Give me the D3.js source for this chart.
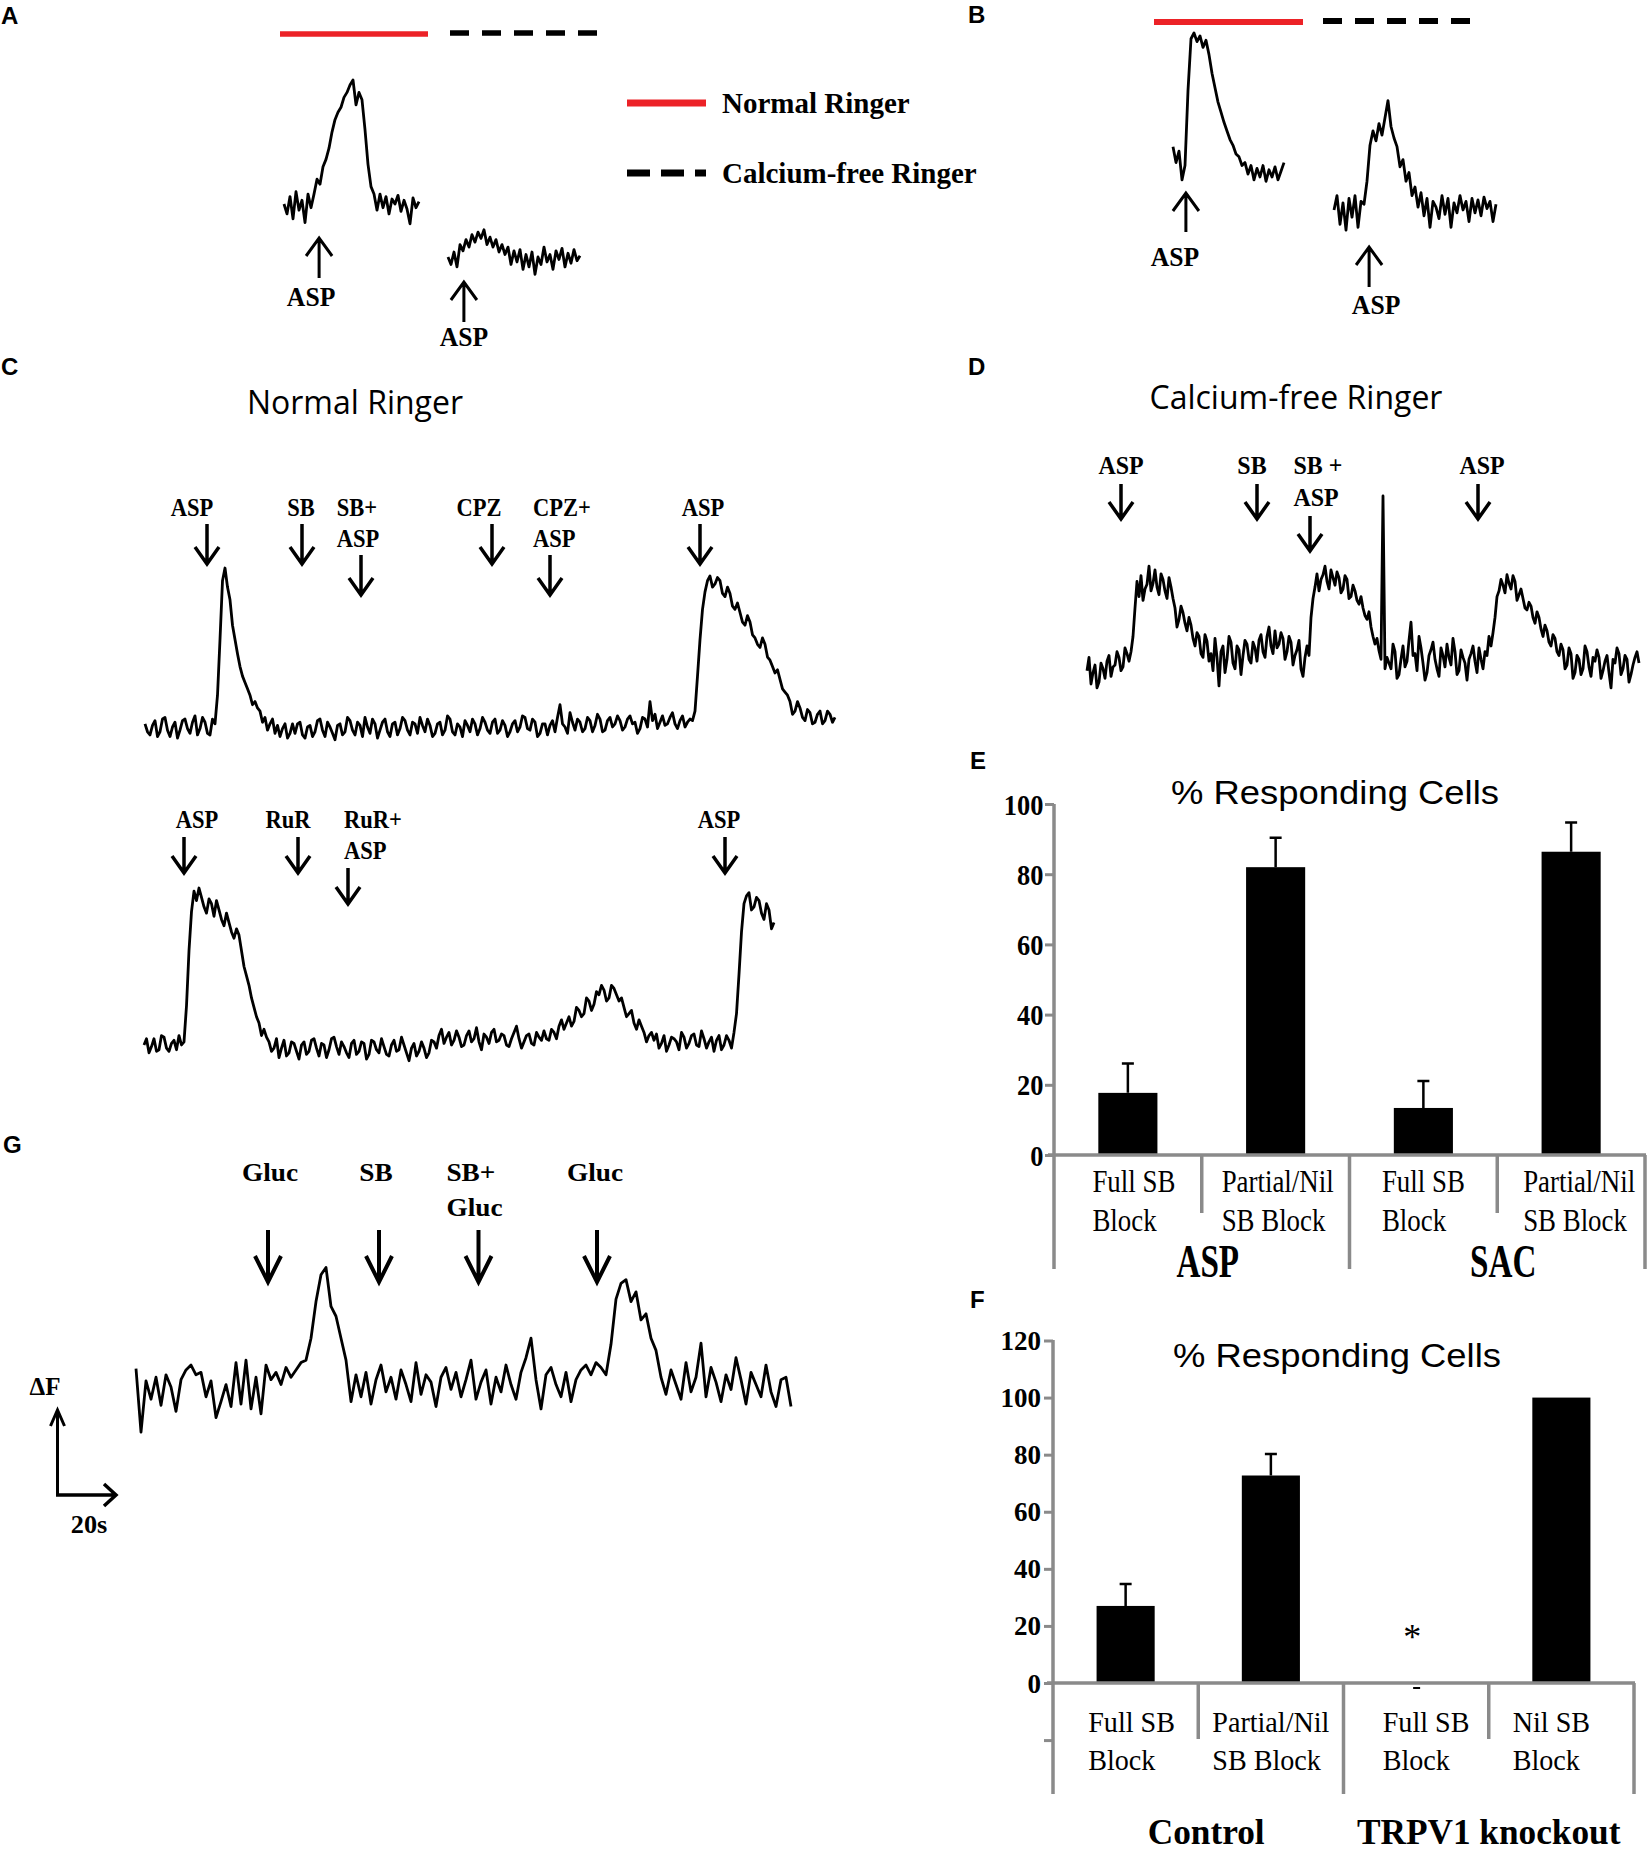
<!DOCTYPE html>
<html>
<head>
<meta charset="utf-8">
<script src="https://d3js.org/d3.v7.min.js"></script>
<style>
  body { margin: 0; background: #fff; }
</style>
</head>
<body>
<div id="fig"></div>
<script>
// ---- traces (dF, arbitrary units: 0 = baseline, 100 = main peak) ----
const traceA_normal = [0, -8, 6, -12, 10, -5, 3, -15, 8, -3, 8, 20, 16, 30, 36, 45, 58, 68, 74, 78,
  86, 90, 96, 100, 80, 90, 84, 60, 32, 14, 8, -5, 8, -3, 6, -8, 4, 0, 7, -6, 3, -4, -16, 5, -3, 2];
const traceA_cafree = [0, -6, 4, -8, 10, 5, 14, 8, 18, 12, 20, 15, 22, 10, 16, 8, 14, 4, 10, 2,
  8, -6, 5, -4, 6, -10, 2, -8, 4, -14, 0, -6, 8, -4, 2, -10, 5, -2, 7, -8, 3, -5, 6, -3, 1];
const traceB_normal = [21, 10, 18, -2, 8, 60, 96, 100, 94, 98, 90, 95, 85, 72, 62, 52, 45, 38, 32, 26,
  22, 16, 14, 8, 10, 2, 8, -2, 6, 0, 8, -3, 5, 0, 7, -2, 4, 10];
const traceB_cafree = [0, 10, -10, 5, -14, 8, -5, 10, -12, 6, 4, 20, 45, 55, 48, 60, 52, 64, 76, 58,
  50, 44, 30, 35, 20, 26, 10, 16, 2, 12, -4, 8, -12, 6, 2, -6, 10, -3, 8, -12,
  5, -2, 10, 0, 6, -8, 8, -2, 7, -4, 9, 1, 6, -8, 4];
const traceC_top = [
  2, -3, -5, 1, 4, -6, -3, 5, 6, -2, -6, 0, 3, -7, -2, 4, 5, -1, -4, 3, 7, -5, -1, 6, 3, -4, -5, 5, 2, 20,
  55, 92, 100, 88, 80, 64, 55, 46, 38, 32, 28, 24, 20, 14, 16, 12, 10, 3, 6, -2, 2, 5, -4, 1, -6, -1, 2, -7, -4, 2,
  -4, 2, 3, -5, -7, 0, 1, -6, -3, 4, 5, -2, -6, 3, 0, -4, -8, 1, 2, -5,
  -3, 6, 4, -2, -5, 3, 1, -6, 6, 0, -4, 5, 2, -7, -2, 3, 5, -3, -6, 2,
  3, -5, -1, 6, 4, -2, -5, 3, 2, -4, 6, 1, -3, 5, 1, -6, -4, 2, 3, -5,
  -2, 7, 5, -3, -5, 2, 0, -6, 4, 1, -3, 5, 2, -5, -1, 6, 3, -2, -4, 3,
  5, -4, -2, 4, 1, -6, -3, 2, 4, -3, 0, 7, 6, -1, -2, 5, 3, -6, -4, 2,
  2, -5, 1, 4, -3, 6, 14, 2, 0, -4, 9, 3, -2, 5, 3, -3, -1, 6, 4, -3,
  1, 8, 5, -3, -2, 4, 6, 0, 2, 7, 4, -2, 0, 5, 7, 2, 3, -4, -1, 6,
  5, 0, 16, 4, 8, -1, 3, 7, 1, 2, 6, 9, 2, -1, 4, 7, 0, 3, 5, 4,
  10, 32, 55, 74, 85, 92, 95, 88, 90, 94, 92, 84, 82, 88, 84, 76, 74, 78, 72, 66,
  64, 70, 66, 58, 56, 52, 50, 56, 52, 44, 42, 38, 34, 36, 30, 24, 22, 20, 16, 8,
  10, 16, 12, 6, 4, 11, 9, 2, 3, 8, 10, 2, 4, 10, 8, 3, 6];
const traceC_bottom = [
  0, 4, -5, -1, 4, -4, -3, 6, 5, -2, -4, 1, 3, -3, 6, 0, 2, 25,
  60, 85, 98, 92, 100, 94, 88, 84, 93, 90, 82, 92, 86, 80, 76, 84, 78, 72, 68, 74, 70, 60,
  50, 44, 38, 30, 24, 18, 14, 6, 10, 5, 2, -4,
  -2, 4, -8, -2, 3, -7, -5, 2, 1, -4, -9, 0, 2, -6, -4, 3, 4, -2, -7, 1, 0, -8, -3, 4, 5, -1,
  -6, 2, -1, -5, -8, 1, 3, -6, -4, 2, 1, -9, -6, 3, 2, -3, -5, 4, -1, -6, -7, 0, 3, -4, -3, 5,
  0, -5, -10, -2, 1, -7, -4, 2, -2, -8, -5, 3,
  2, -2, 6, 10, 1, 5, 8, 0, 3, 9, 5, -1, 0, 6, 9, 2, 4, 11, 2, -3, 7, 5, 1, 8,
  10, 2, 3, 7, 6, 0, -1, 4, 8, 12, 4, -2, 2, 6, 7, 1, 0, 8, 5, 3, 9, 4, 3, 10,
  8, 4, 12, 16, 10, 14, 18, 12, 15, 24, 22, 18, 20, 30, 28, 22, 26, 34, 32, 38,
  35, 28, 30, 38, 36, 32, 28, 30, 24, 18, 20, 22, 14, 10, 16, 12, 8, 2, 6, 8,
  3, 7, -2, 1, 6, -4, 0, 5, 4, 2, -3, 8, 5, -2, 1, 6, 7, 0, -1, 9, 4, -2, 2, 5, -4, 3,
  6, -3, 0, 6, 3, -2, 8, 20,
  45, 72, 90, 95, 97, 86, 88, 94, 92, 84, 80, 90, 86, 74, 78];
const traceD = [
  -6, 8, -20, -8, 0, -24, -18, 2, -4, -14, 4, 10, -12, -2, 0, 14, 8, -6, -2, 18, 12, 4, 14, 30,
  60, 88, 72, 94, 68, 80, 85, 104, 78, 86, 100, 82, 74, 96, 90, 78, 70, 92, 82, 70,
  60, 40, 48, 62, 55, 44, 36, 50, 42, 28, 20, 34, 30, 12, 8, 32, 25, 4,
  12, -6, 28, 8, -22, 14, 20, -8, 6, 30, 24, 2, -4, 20, 16, -10, 10, 26, 22, 6,
  2, 24, 18, 4, 26, 32, 14, 8, 30, 40, 20, 12, 36, 18, 22, 34, 28, 6, 14, 30,
  24, 0, 10, 16, 26, -4, -12, 8, 20, 10,
  50, 70, 82, 96, 78, 90, 95, 104, 88, 80, 100, 92, 84, 98, 92, 76, 80, 94,
  90, 70, 72, 84, 78, 68, 64, 72, 60, 52, 48, 56, 40, 30, 22, 28, 15, 6,
  178, -4, 8, 2,
  -4, 22, 14, -14, -10, 6, 20, -2, 4, 26, 45, 10, 12, -6, 30, 18, 2, -16, -8, 10,
  16, 24, 6, -4, -12, 18, 10, -2, 22, 8, 0, 28, 14, -10, -6, 16, 8, 2, -16, 6,
  12, 20, 4, -8, 18, 6, -4, 14, 10, 30, 20, 34,
  50, 72, 78, 90, 84, 76, 95, 86, 80, 94, 88, 68, 74, 80, 70, 60, 58, 66, 62, 50,
  44, 56, 50, 38, 30, 42, 36, 24, 20, 32, 28, 14, 10, 22, 16, -4,
  0, 18, 12, -14, -8, 10, 6, -10, -4, 20, 14, -2, -12, 8, 4, 16, 8, -14, -6, 4,
  10, -8, -24, 6, 2, 18, 12, -10, -4, 10, 6, -18, -10, 0, 8, 14, 2];
const traceG = [15, -37, 5, -10, 8, -15, 10, 0, -20, 6, 14, 18, 10, 12, -8, 5, -25, -12, 2, -16,
  20, -14, 22, -18, 8, -22, 18, 6, 12, 2, 16, 8, 14, 20,
  22, 40, 70, 92, 98, 66, 58, 40, 22, -12,
  10, -8, 12, -14, 6, 18, -4, 8, -10, 14, 2, -12, 20, -6, 10, 4, -16, 8, 16, -2,
  12, -8, 6, 22, -10, 4, 14, -14, 8, -4, 18, 2, -10, 12, 24, 40, 6, -18, 10, 16,
  2, -8, 12, -12, 6, 14, 18, 10, 20, 16,
  10, 35, 72, 85, 88, 70, 78, 55, 60, 40,
  30, 8, -6, 14, 2, -10, 20, -4, 8, 36, -8, 16, 4, -12, 10, -2, 24, 6, -14, 12,
  2, -8, 18, -4, -16, 6, 8, -16];

// ---- drug applications (t = sample index of the trace) ----
const eventsA_normal = [{ t: 11.7, label: ['ASP'] }];
const eventsA_cafree = [{ t: 5.3, label: ['ASP'] }];
const eventsB_normal = [{ t: 4.3, label: ['ASP'] }];
const eventsB_cafree = [{ t: 11.7, label: ['ASP'] }];
const eventsC_top = [
  { t: 24.8, label: ['ASP'] }, { t: 62.8, label: ['SB'] }, { t: 86.4, label: ['SB+', 'ASP'] },
  { t: 138.8, label: ['CPZ'] }, { t: 162, label: ['CPZ+', 'ASP'] }, { t: 222, label: ['ASP'] }];
const eventsC_bottom = [
  { t: 16, label: ['ASP'] }, { t: 61.6, label: ['RuR'] }, { t: 81.6, label: ['RuR+', 'ASP'] },
  { t: 232.4, label: ['ASP'] }];
const eventsD = [
  { t: 17, label: ['ASP'] }, { t: 85, label: ['SB'] }, { t: 111.5, label: ['SB +', 'ASP'] },
  { t: 195.5, label: ['ASP'] }];
const eventsG = [
  { t: 26.4, label: ['Gluc'] }, { t: 48.6, label: ['SB'] }, { t: 68.5, label: ['SB+', 'Gluc'] },
  { t: 92.2, label: ['Gluc'] }];

// ---- bar charts ----
const barE_categories = [['Full SB', 'Block'], ['Partial/Nil', 'SB Block'], ['Full SB', 'Block'], ['Partial/Nil', 'SB Block']];
const barE_values = [17.7, 82.0, 13.4, 86.4];
const barE_errors = [8.4, 8.4, 7.7, 8.3];
const barE_groups = ['ASP', 'SAC'];
const barE_ticks = [0, 20, 40, 60, 80, 100];

const barF_categories = [['Full SB', 'Block'], ['Partial/Nil', 'SB Block'], ['Full SB', 'Block'], ['Nil SB', 'Block']];
const barF_values = [27.0, 72.7, 0, 100];
const barF_errors = [7.7, 7.5, 0, 0];
const barF_marks = ['', '', '*', ''];
const barF_groups = ['Control', 'TRPV1 knockout'];
const barF_ticks = [-20, 0, 20, 40, 60, 80, 100, 120];

const SERIF = '"Liberation Serif","Times New Roman",serif';
const SANS = '"Liberation Sans",Arial,sans-serif';
const MYRIAD = '"Open Sans","Noto Sans",sans-serif';
const RED = '#ec2227';
const GREY = '#8a8a8a';

const svg = d3.select('#fig').append('svg')
  .attr('width', 1652)
  .attr('height', 1855)
  .style('background', '#fff');

function textBlock(g, cx, y, lines, o) {
  const t = g.append('text')
    .attr('font-family', o.family || SERIF)
    .attr('font-weight', o.weight || 'bold')
    .attr('font-size', o.size)
    .attr('fill', '#000');
  lines.forEach(function (s, k) {
    t.append('tspan')
      .attr('x', 0)
      .attr('y', k * (o.lh || 0))
      .attr('dominant-baseline', 'central')
      .text(s);
  });
  const w = d3.max(t.selectAll('tspan').nodes(), n => n.getComputedTextLength());
  const sx = o.sx || 1;
  const left = o.anchor === 'start' ? cx : (o.anchor === 'end' ? cx - w * sx : cx - w * sx / 2);
  t.attr('transform', 'translate(' + left + ',' + y + ') scale(' + sx + ',1)');
  return t;
}

function arrow(g, x, tail, tip, hw, hh, sw) {
  const s = tip > tail ? -1 : 1;
  g.append('path')
    .attr('d', 'M' + x + ',' + tail + 'L' + x + ',' + tip +
      'M' + (x - hw) + ',' + (tip + s * hh) + 'L' + x + ',' + tip + 'L' + (x + hw) + ',' + (tip + s * hh))
    .attr('fill', 'none')
    .attr('stroke', '#000')
    .attr('stroke-width', sw)
    .attr('stroke-linejoin', 'miter');
}

function trace(p) {
  const g = svg.append('g');
  const x = d3.scaleLinear().domain([0, p.values.length - 1]).range([p.x0, p.x1]);
  const y = d3.scaleLinear().domain([0, 100]).range([p.y0, p.y100]);
  g.append('path')
    .datum(p.values)
    .attr('d', d3.line().x((d, i) => x(i)).y(d => y(d)))
    .attr('fill', 'none')
    .attr('stroke', '#000')
    .attr('stroke-width', 2.8)
    .attr('stroke-linejoin', 'round');

  p.events.forEach(function (ev, i) {
    const ax = x(ev.t);
    const lx = ax + (p.labelDx ? p.labelDx[i] : 0);
    if (p.dir === 'up') {
      arrow(g, ax, p.arrowTop + p.arrowLen, p.arrowTop, p.head[0], p.head[1], p.sw);
      textBlock(g, lx, p.labelY, ev.label, { size: p.font, sx: p.sx || 1 });
    } else {
      const top = p.arrowTop !== undefined ? p.arrowTop : p.labelY + (ev.label.length - 1) * p.lh + p.gap;
      arrow(g, ax, top, top + p.arrowLen, p.head[0], p.head[1], p.sw);
      textBlock(g, lx, p.labelY, ev.label, { size: p.font, lh: p.lh, sx: p.sx || 1 });
    }
  });
  return { x: x, y: y };
}

// panel A
trace({ values: traceA_normal, events: eventsA_normal, x0: 284, x1: 419, y0: 204, y100: 80, labelDx: [-8],
  dir: 'up', arrowTop: 238, arrowLen: 40, labelY: 297, font: 27, sx: 0.95, head: [13, 18], sw: 3 });
trace({ values: traceA_cafree, events: eventsA_cafree, x0: 448, x1: 580, y0: 257, y100: 133, labelDx: [0],
  dir: 'up', arrowTop: 282, arrowLen: 40, labelY: 337, font: 27, sx: 0.95, head: [13, 18], sw: 3 });
// panel B
trace({ values: traceB_normal, events: eventsB_normal, x0: 1173, x1: 1284, y0: 177, y100: 33, labelDx: [-11],
  dir: 'up', arrowTop: 193, arrowLen: 39, labelY: 257, font: 27, sx: 0.95, head: [13, 18], sw: 3 });
trace({ values: traceB_cafree, events: eventsB_cafree, x0: 1334, x1: 1496, y0: 210, y100: 66, labelDx: [7],
  dir: 'up', arrowTop: 247, arrowLen: 40, labelY: 305, font: 27, sx: 0.95, head: [13, 18], sw: 3 });
// panel C
trace({ values: traceC_top, events: eventsC_top, x0: 145, x1: 835, y0: 727, y100: 568,
  labelDx: [-15, -1, -3, -13, 12, 3],
  dir: 'down', labelY: 508, lh: 31, gap: 16, arrowLen: 40, font: 25, sx: 0.9, head: [12, 17], sw: 3.5 });
trace({ values: traceC_bottom, events: eventsC_bottom, x0: 144, x1: 774, y0: 1045, y100: 888,
  labelDx: [13, -10, 25, -6],
  dir: 'down', labelY: 820, lh: 31, gap: 17, arrowLen: 36, font: 25, sx: 0.9, head: [12, 17], sw: 3.5 });
// panel D
trace({ values: traceD, events: eventsD, x0: 1087, x1: 1639, y0: 665, y100: 570,
  labelDx: [0, -5, 8, 4],
  dir: 'down', labelY: 465, lh: 32, gap: 19, arrowLen: 35, font: 26, sx: 0.92, head: [12, 17], sw: 3.5 });
// panel G
trace({ values: traceG, events: eventsG, x0: 136, x1: 791, y0: 1387, y100: 1265,
  labelDx: [2, -3, -4, -2],
  dir: 'down', labelY: 1172, lh: 35, arrowTop: 1230, arrowLen: 52, font: 26, sx: 1.05, head: [13, 26], sw: 4 });

// solution bars A and B
const solA = svg.append('g');
solA.append('line').attr('x1', 280).attr('x2', 428).attr('y1', 34).attr('y2', 34)
  .attr('stroke', RED).attr('stroke-width', 5.5);
solA.append('line').attr('x1', 450).attr('x2', 600).attr('y1', 33).attr('y2', 33)
  .attr('stroke', '#000').attr('stroke-width', 5.5).attr('stroke-dasharray', '19,13');
solA.append('line').attr('x1', 1154).attr('x2', 1303).attr('y1', 22).attr('y2', 22)
  .attr('stroke', RED).attr('stroke-width', 6);
solA.append('line').attr('x1', 1323).attr('x2', 1471).attr('y1', 21).attr('y2', 21)
  .attr('stroke', '#000').attr('stroke-width', 6).attr('stroke-dasharray', '19,13');

// legend
const leg = svg.append('g');
leg.append('line').attr('x1', 627).attr('x2', 706).attr('y1', 103).attr('y2', 103)
  .attr('stroke', RED).attr('stroke-width', 7);
leg.append('line').attr('x1', 627).attr('x2', 706).attr('y1', 173).attr('y2', 173)
  .attr('stroke', '#000').attr('stroke-width', 7).attr('stroke-dasharray', '23,11');
textBlock(leg, 722, 103, ['Normal Ringer'], { size: 29, anchor: 'start' });
textBlock(leg, 722, 173, ['Calcium-free Ringer'], { size: 29, anchor: 'start' });

// panel titles
textBlock(svg, 355, 401, ['Normal Ringer'], { family: MYRIAD, weight: 'normal', size: 33, sx: 0.97 });
textBlock(svg, 1296, 396, ['Calcium-free Ringer'], { family: MYRIAD, weight: 'normal', size: 33, sx: 0.97 });

// scale bar
const sb = svg.append('g');
arrow(sb, 57.5, 1496, 1410, 7, 16, 3);
sb.append('path')
  .attr('d', 'M56,1495L116,1495M104,1484L116,1495L104,1506')
  .attr('fill', 'none').attr('stroke', '#000').attr('stroke-width', 3.5);
textBlock(sb, 45, 1386, ['\u0394F'], { size: 25 });
textBlock(sb, 89, 1525, ['20s'], { size: 25, sx: 1.05 });

// bar charts
function barChart(o) {
  const g = svg.append('g');
  const n = o.values.length;
  const x = d3.scaleBand().domain(d3.range(n)).range([o.left, o.right]);
  const y = d3.scaleLinear().domain(o.yDomain).range([o.zeroY, o.topY]);
  const bw = x.bandwidth();

  g.append('text')
    .attr('x', o.titleX).attr('y', o.titleY)
    .attr('text-anchor', 'middle')
    .attr('dominant-baseline', 'central')
    .attr('font-family', SANS)
    .attr('font-size', 33)
    .attr('textLength', 328)
    .attr('lengthAdjust', 'spacingAndGlyphs')
    .text('% Responding Cells');

  g.selectAll('rect.bar')
    .data(o.values)
    .enter()
    .append('rect')
    .attr('class', 'bar')
    .attr('x', (d, i) => x(i) + bw * 0.3)
    .attr('width', bw * 0.4)
    .attr('y', d => y(d))
    .attr('height', d => y(0) - y(d))
    .attr('fill', '#000');

  o.values.forEach(function (v, i) {
    const e = o.errors[i];
    if (!e) return;
    const cx = x(i) + bw / 2;
    g.append('path')
      .attr('d', 'M' + cx + ',' + y(v) + 'L' + cx + ',' + y(v + e) + 'M' + (cx - 6) + ',' + y(v + e) + 'L' + (cx + 6) + ',' + y(v + e))
      .attr('stroke', '#000').attr('stroke-width', 2.5).attr('fill', 'none');
  });

  if (o.marks) {
    o.marks.forEach(function (m, i) {
      if (!m) return;
      const cx = x(i) + bw / 2;
      textBlock(g, cx - 4, y(0) - 46, [m], { size: 36, weight: 'normal' });
      g.append('line').attr('x1', cx - 3).attr('x2', cx + 4).attr('y1', y(0) + 5).attr('y2', y(0) + 5)
        .attr('stroke', '#000').attr('stroke-width', 2);
    });
  }

  // y axis
  const ax = g.append('g')
    .attr('transform', 'translate(' + o.left + ',0)')
    .call(d3.axisLeft(y).tickValues(o.ticks).tickSize(9).tickPadding(3).tickFormat(d => d < 0 ? '' : d));
  ax.select('.domain').remove();
  ax.selectAll('.tick line').attr('stroke', GREY).attr('stroke-width', 3);
  ax.selectAll('.tick text')
    .attr('fill', '#000')
    .attr('dy', null)
    .attr('dominant-baseline', 'central')
    .style('font-family', SERIF)
    .style('font-weight', 'bold')
    .style('font-size', o.tickFont + 'px')
    .attr('transform', 'scale(' + o.tickSx + ',1)');

  const lines = g.append('g').attr('stroke', GREY).attr('stroke-width', 3.5);
  lines.append('line').attr('x1', o.left).attr('x2', o.left).attr('y1', o.axisTop).attr('y2', o.axisBottom);
  lines.append('line').attr('x1', o.left - 6).attr('x2', o.right + 1).attr('y1', y(0)).attr('y2', y(0));
  d3.range(1, n + 1).forEach(function (k) {
    const xx = k === n ? o.right : x(k);
    lines.append('line').attr('x1', xx).attr('x2', xx).attr('y1', y(0))
      .attr('y2', k % 2 === 0 ? o.axisBottom : o.shortBottom);
  });

  o.categories.forEach(function (c, i) {
    textBlock(g, x(i) + bw / 2 + (o.catDx ? o.catDx[i] : 0), o.catY, c,
      { size: o.catFont, weight: 'normal', lh: o.catLh, sx: o.catSx });
  });
  o.groups.forEach(function (s, j) {
    const cx = x(2 * j) + bw;
    textBlock(g, cx + o.groupDx[j], o.groupY, [s], { size: o.groupFont, sx: o.groupSx });
  });
}

barChart({ values: barE_values, errors: barE_errors, categories: barE_categories, groups: barE_groups,
  ticks: barE_ticks, yDomain: [0, 100], left: 1054, right: 1645, zeroY: 1155, topY: 804,
  axisTop: 804, axisBottom: 1269, shortBottom: 1213, titleX: 1335, titleY: 792,
  tickFont: 30, tickSx: 0.88, catY: 1181, catLh: 39, catFont: 32, catSx: 0.84, catDx: [6, 2, 0, 8],
  groupY: 1262, groupFont: 46, groupSx: 0.72, groupDx: [6, 6] });

barChart({ values: barF_values, errors: barF_errors, categories: barF_categories, groups: barF_groups,
  marks: barF_marks, ticks: barF_ticks, yDomain: [0, 120], left: 1053, right: 1634, zeroY: 1683, topY: 1340.5,
  axisTop: 1340, axisBottom: 1794, shortBottom: 1739, titleX: 1337, titleY: 1355,
  tickFont: 27, tickSx: 1, catY: 1722, catLh: 38, catFont: 29, catSx: 0.97, catDx: [6, 0, 10, -10],
  groupY: 1832, groupFont: 36, groupSx: 0.98, groupDx: [8, 0] });

// panel letters
[['A', 1, 24], ['B', 968, 23], ['C', 1, 375], ['D', 968, 375], ['E', 970, 769], ['F', 970, 1308], ['G', 3, 1153]]
  .forEach(function (l) {
    svg.append('text')
      .attr('x', l[1]).attr('y', l[2])
      .attr('font-family', SANS)
      .attr('font-weight', 'bold')
      .attr('font-size', 24)
      .text(l[0]);
  });
</script>
</body>
</html>
